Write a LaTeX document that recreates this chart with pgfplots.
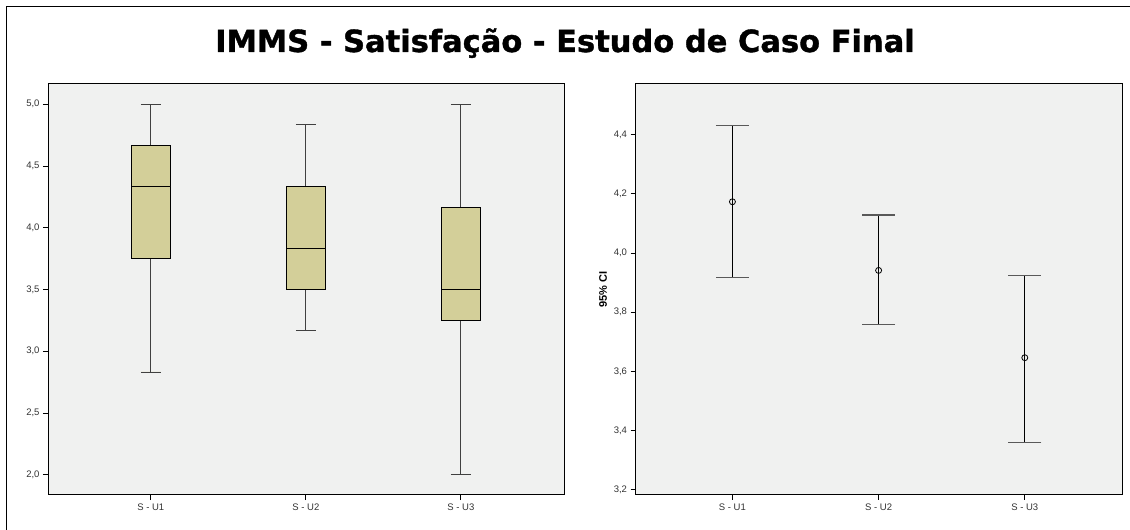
\documentclass[border=0pt]{standalone}
\usepackage{pgfplots}
\pgfplotsset{compat=1.18}
\usepgfplotslibrary{statistics}
\usepackage{fontspec}
\setmainfont{Liberation Sans}
\newfontfamily\titlefont[BoldFeatures={FakeBold=1.2}]{DejaVu Sans}
\definecolor{boxfill}{RGB}{211,207,153}
\definecolor{bgcol}{RGB}{240,241,240}
\definecolor{ticktext}{RGB}{50,50,50}
\pgfplotsset{
  spssaxis/.style={
    scale only axis,
    anchor=south west,
    axis background/.style={fill=bgcol},
    axis line style={black, line width=1pt},
    tick align=outside,
    major tick length=5pt,
    tick style={black, line width=0.8pt},
    xtick pos=left, ytick pos=left,
    xtick={1,2,3}, xticklabels={S - U1, S - U2, S - U3},
    xmin=0.337, xmax=3.665,
    tick label style={font=\fontsize{9.5}{11}\selectfont, text=ticktext},
    /pgf/number format/use comma,
    /pgf/number format/fixed,
    /pgf/number format/fixed zerofill,
    /pgf/number format/precision=1,
    /pgf/number format/assume math mode=true,
  },
  boxplot/draw direction=y,
  boxplot/every whisker/.style={line width=0.8pt, draw=black!75},
  boxplot/every box/.style={line width=1pt, draw=black},
  boxplot/every median/.style={line width=1.2pt, draw=black},
}
\begin{document}
\begin{tikzpicture}
\path[use as bounding box] (0,0) rectangle (1130pt,530pt);
\draw[line width=1.5pt] (6.5pt,0) -- (6.5pt,523.5pt) -- (1130pt,523.5pt);
\node[font=\fontsize{30.5}{36}\selectfont\titlefont\bfseries, anchor=base] at (565pt,478pt) {IMMS - Satisfação - Estudo de Caso Final};

\begin{axis}[spssaxis, at={(48pt,35pt)}, width=516pt, height=411pt,
  ymin=1.837, ymax=5.163, ytick={2,2.5,3,3.5,4,4.5,5}]
\addplot[fill=boxfill, draw=black, boxplot prepared={draw position=1, lower whisker=2.833, lower quartile=3.75, median=4.333, upper quartile=4.667, upper whisker=5.0, box extend=0.252, whisker extend=0.128}] coordinates {};
\addplot[fill=boxfill, draw=black, boxplot prepared={draw position=2, lower whisker=3.167, lower quartile=3.5, median=3.833, upper quartile=4.333, upper whisker=4.833, box extend=0.252, whisker extend=0.128}] coordinates {};
\addplot[fill=boxfill, draw=black, boxplot prepared={draw position=3, lower whisker=2.0, lower quartile=3.25, median=3.5, upper quartile=4.167, upper whisker=5.0, box extend=0.252, whisker extend=0.128}] coordinates {};
\end{axis}

\begin{axis}[spssaxis, at={(635.5pt,35pt)}, width=486.5pt, height=411pt,
  ymin=3.182, ymax=4.571, ytick={3.2,3.4,3.6,3.8,4.0,4.2,4.4},
  ylabel={95\% CI}, ylabel style={font=\fontsize{11}{12}\selectfont\bfseries}]
\addplot[only marks, mark=o, mark size=3pt, mark options={black, line width=0.8pt},
  error bars/.cd, y dir=both, y explicit, error mark=-,
  error mark options={rotate=90, mark size=16.5pt, line width=1.3pt, draw=black!65},
  error bar style={line width=0.8pt, black}] coordinates {
 (1,4.173) += (0,0.257) -= (0,0.256)
 (2,3.941) += (0,0.187) -= (0,0.183)
 (3,3.646) += (0,0.278) -= (0,0.286)
};
\end{axis}
\end{tikzpicture}
\end{document}
